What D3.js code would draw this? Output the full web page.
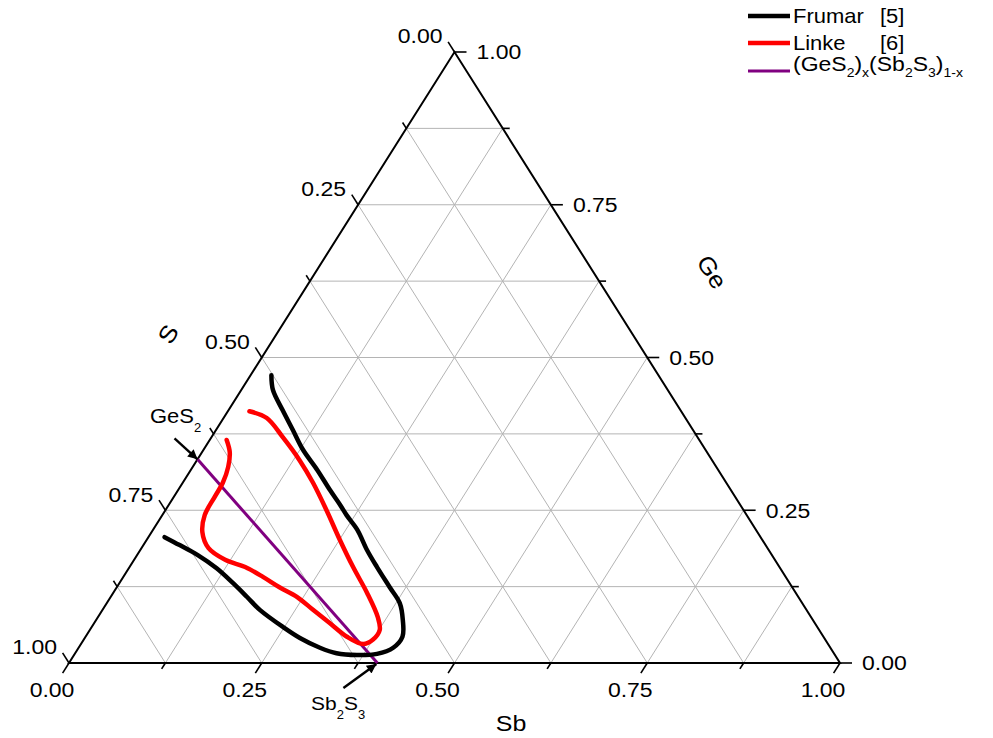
<!DOCTYPE html>
<html>
<head>
<meta charset="utf-8">
<script src="https://cdn.jsdelivr.net/npm/d3@7"></script>
<style>
body { margin: 0; background: #fff; }
text { font-family: "Liberation Sans", Arial, sans-serif; fill: #000; }
</style>
</head>
<body>
<div id="chart"></div>
<script>
// compositions are [Sb, Ge]; S = 1 - Sb - Ge
var tickSteps = [0, 0.125, 0.25, 0.375, 0.5, 0.625, 0.75, 0.875, 1];
var gridSteps = [0.125, 0.25, 0.375, 0.5, 0.625, 0.75, 0.875];
var labelValues = [0, 0.25, 0.5, 0.75, 1];
var tickLabels = ["0.00", "0.25", "0.50", "0.75", "1.00"];

var frumar = [[0.027,0.471],[0.041,0.447],[0.070,0.414],[0.100,0.381],[0.129,0.349],[0.164,0.316],
  [0.197,0.283],[0.222,0.259],[0.239,0.242],[0.265,0.218],[0.294,0.185],[0.321,0.157],[0.354,0.124],
  [0.380,0.098],[0.398,0.070],[0.411,0.043],[0.408,0.025],[0.392,0.015],[0.367,0.013],[0.339,0.016],
  [0.313,0.025],[0.279,0.041],[0.248,0.059],[0.204,0.087],[0.177,0.108],[0.147,0.131],[0.114,0.155],
  [0.078,0.177],[0.047,0.193],[0.021,0.206]];

var linke = [[0.022,0.365],[0.036,0.345],[0.046,0.321],[0.052,0.295],[0.053,0.272],[0.055,0.242],
  [0.066,0.214],[0.087,0.188],[0.118,0.169],[0.150,0.157],[0.181,0.141],[0.211,0.124],[0.242,0.108],
  [0.273,0.087],[0.306,0.065],[0.339,0.043],[0.366,0.031],[0.375,0.038],[0.376,0.054],[0.363,0.075],
  [0.329,0.115],[0.290,0.157],[0.251,0.201],[0.209,0.250],[0.169,0.295],[0.133,0.332],[0.092,0.370],
  [0.056,0.401],[0.028,0.412]];

// GeS2 -> Sb2S3 tie line
var tieLine = [[0, 1/3], [0.4, 0]];

var seriesNames = ["Frumar", "Linke", "tie"];
var seriesColors = ["#000000", "#ff0000", "#800080"];
var seriesRefs = ["[5]", "[6]", ""];

function init() {

  var width = 993, height = 738;

  var svg = d3.select("#chart")
    .append("svg")
    .attr("width", width)
    .attr("height", height);

  // base scales: horizontal position and Ge fraction
  var x = d3.scaleLinear().domain([0, 1]).range([69, 840]);
  var y = d3.scaleLinear().domain([0, 1]).range([663, 52]);

  function pt(p) { return [x(p[0] + p[1] / 2), y(p[1])]; }

  var BL = pt([0, 0]), BR = pt([1, 0]), TOP = pt([0, 1]);

  function unit(a, b) {
    var dx = b[0] - a[0], dy = b[1] - a[1], l = Math.sqrt(dx * dx + dy * dy);
    return [dx / l, dy / l];
  }
  var dirBottom = unit(TOP, BL);   // down-left
  var dirLeft = unit(BR, TOP);     // up-left
  var dirRight = [1, 0];

  function txt(g, tx, ty, str, size, anchor, rot) {
    return g.append("text")
      .attr("transform", "translate(" + tx + "," + ty + ")" + (rot ? " rotate(" + rot + ")" : "") + " scale(1,0.915)")
      .attr("text-anchor", anchor)
      .attr("dy", "0.35em")
      .style("font-size", size + "px")
      .text(str);
  }

  // grid lines
  var grid = svg.append("g")
    .attr("stroke", "#b4b4b4")
    .attr("stroke-width", 1)
    .attr("fill", "none");
  gridSteps.forEach(function (v) {
    var segs = [
      [[0, v], [1 - v, v]],
      [[v, 0], [v, 1 - v]],
      [[1 - v, 0], [0, 1 - v]]
    ];
    segs.forEach(function (s) {
      var a = pt(s[0]), b = pt(s[1]);
      grid.append("line")
        .attr("x1", a[0]).attr("y1", a[1])
        .attr("x2", b[0]).attr("y2", b[1]);
    });
  });

  // ticks
  var tk = svg.append("g").attr("stroke", "#000").attr("stroke-width", 1.6);
  tickSteps.forEach(function (v, i) {
    var len = (i % 2 === 0) ? 12 : 7;
    var pb = pt([v, 0]), pr = pt([1 - v, v]), pl = pt([0, 1 - v]);
    tk.append("line").attr("x1", pb[0]).attr("y1", pb[1])
      .attr("x2", pb[0] + dirBottom[0] * len).attr("y2", pb[1] + dirBottom[1] * len);
    tk.append("line").attr("x1", pr[0]).attr("y1", pr[1])
      .attr("x2", pr[0] + dirRight[0] * len).attr("y2", pr[1] + dirRight[1] * len);
    tk.append("line").attr("x1", pl[0]).attr("y1", pl[1])
      .attr("x2", pl[0] + dirLeft[0] * len).attr("y2", pl[1] + dirLeft[1] * len);
  });

  // triangle frame
  svg.append("path")
    .attr("d", d3.line()([BL, BR, TOP, BL]) + "Z")
    .attr("fill", "none")
    .attr("stroke", "#000")
    .attr("stroke-width", 2);

  // tick labels
  var lab = svg.append("g");
  labelValues.forEach(function (v, i) {
    var pb = pt([v, 0]), pr = pt([1 - v, v]), pl = pt([0, 1 - v]);
    txt(lab, pb[0] - 17, pb[1] + 27, tickLabels[i], 23, "middle");
    txt(lab, pr[0] + 22, pr[1], tickLabels[i], 23, "start");
    txt(lab, pl[0] - 12, pl[1] - 16, tickLabels[i], 23, "end");
  });

  // axis titles
  txt(svg, 511, 723, "Sb", 25, "middle");
  txt(svg, 712, 272, "Ge", 26, "middle", 58);
  txt(svg, 168, 334, "S", 26, "middle", -60);

  // data curves
  var line = d3.line()
    .x(function (d) { return pt(d)[0]; })
    .y(function (d) { return pt(d)[1]; })
    .curve(d3.curveCatmullRom.alpha(0.5));

  svg.append("path").datum(tieLine)
    .attr("d", line)
    .attr("fill", "none")
    .attr("stroke", seriesColors[2])
    .attr("stroke-width", 3);

  svg.append("path").datum(frumar)
    .attr("d", line)
    .attr("fill", "none")
    .attr("stroke", seriesColors[0])
    .attr("stroke-width", 4.5)
    .attr("stroke-linecap", "round")
    .attr("stroke-linejoin", "round");

  svg.append("path").datum(linke)
    .attr("d", line)
    .attr("fill", "none")
    .attr("stroke", seriesColors[1])
    .attr("stroke-width", 4.5)
    .attr("stroke-linecap", "round")
    .attr("stroke-linejoin", "round");

  // arrows for GeS2 and Sb2S3
  svg.append("defs").append("marker")
    .attr("id", "arr")
    .attr("viewBox", "0 0 10 10")
    .attr("refX", 10).attr("refY", 5)
    .attr("markerWidth", 5).attr("markerHeight", 4)
    .attr("orient", "auto")
    .append("path")
    .attr("d", "M0,0L10,5L0,10Z")
    .attr("fill", "#000");

  var pG = pt(tieLine[0]), pS = pt(tieLine[1]);
  svg.append("line")
    .attr("x1", pG[0] - 23).attr("y1", pG[1] - 21)
    .attr("x2", pG[0]).attr("y2", pG[1])
    .attr("stroke", "#000").attr("stroke-width", 2.4)
    .attr("marker-end", "url(#arr)");
  svg.append("line")
    .attr("x1", pS[0] - 34).attr("y1", pS[1] + 25)
    .attr("x2", pS[0] - 1).attr("y2", pS[1] + 1)
    .attr("stroke", "#000").attr("stroke-width", 2.4)
    .attr("marker-end", "url(#arr)");

  var g1 = svg.append("text")
    .attr("transform", "translate(150,416) scale(1,0.915)")
    .attr("dy", "0.35em")
    .style("font-size", "22px");
  g1.append("tspan").text("GeS");
  g1.append("tspan").attr("dy", 10).style("font-size", "13px").text("2");

  var g2 = svg.append("text")
    .attr("transform", "translate(311,703) scale(1,0.915)")
    .attr("dy", "0.35em")
    .style("font-size", "21px");
  g2.append("tspan").text("Sb");
  g2.append("tspan").attr("dy", 10).style("font-size", "13px").text("2");
  g2.append("tspan").attr("dy", -10).text("S");
  g2.append("tspan").attr("dy", 10).style("font-size", "13px").text("3");

  // legend
  var legY = [16, 43, 71];
  var leg = svg.append("g");
  seriesNames.forEach(function (n, i) {
    leg.append("line")
      .attr("x1", 748).attr("x2", 790)
      .attr("y1", legY[i]).attr("y2", legY[i])
      .attr("stroke", seriesColors[i])
      .attr("stroke-width", i === 2 ? 3 : 4.5);
  });
  txt(leg, 793, legY[0], "Frumar", 22, "start");
  txt(leg, 880, legY[0], seriesRefs[0], 22, "start");
  txt(leg, 793, legY[1], "Linke", 22, "start");
  txt(leg, 880, legY[1], seriesRefs[1], 22, "start");

  var t3 = leg.append("text")
    .attr("transform", "translate(793," + legY[2] + ") scale(1,0.915)")
    .attr("dy", "0.35em")
    .style("font-size", "23px");
  var sub = [["(GeS", "2"], [")", "x"], ["(Sb", "2"], ["S", "3"], [")", "1-x"]];
  sub.forEach(function (s, j) {
    t3.append("tspan").attr("dy", j === 0 ? 0 : -7).text(s[0]);
    t3.append("tspan").attr("dy", 7).style("font-size", "14px").text(s[1]);
  });
}
window.onload = init;
</script>
</body>
</html>
